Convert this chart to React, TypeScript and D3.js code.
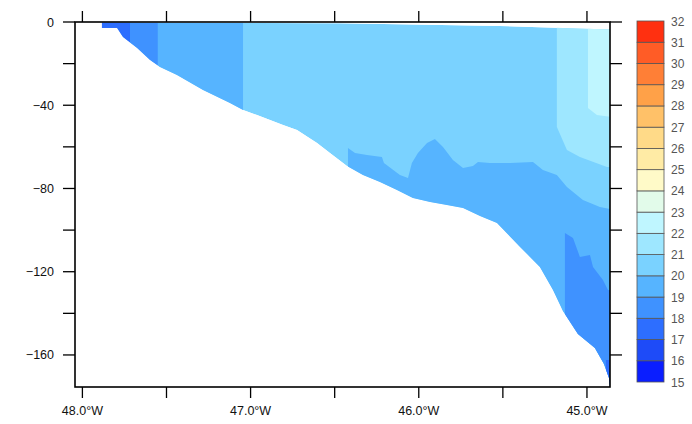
import React from 'react';
import * as d3 from 'd3';

// Colour levels (lower bounds 15..31) and colours of each 1-degree class
const levelBounds = d3.range(15, 33);
const levelColors = [
  '#0A1EFF', '#1E4BF8', '#2D6EFF', '#3F92FF', '#56B4FF', '#7AD2FF', '#9EE7FF', '#BFF6FF',
  '#E2FBEA', '#FFFAC8', '#FFEBA5', '#FFDA88', '#FFC168', '#FFA148', '#FF7F36', '#FF5C26', '#FF3010',
];

// Axis ticks
const xTicks = [-48, -47.5, -47, -46.5, -46, -45.5, -45];
const xLabelTicks = [-48, -47, -46, -45];
const yTicks = [0, -20, -40, -60, -80, -100, -120, -140, -160];
const yLabelTicks = [0, -40, -80, -120, -160];

// Section extents
const lonExtent = [-48.044, -44.863];
const depthExtent = [0, -175.4];

// Sea surface of the section (top of the data)
const surfaceLon = [-47.884, -46.47, -45.52, -44.863];
const surfaceDepth = [-0.2, -0.6, -1.9, -3.6];

// Bathymetry along the section
const bottomLon = [-47.884, -47.794, -47.759, -47.675, -47.598, -47.539, -47.438, -47.283, -47.123, -47.045,
  -46.962, -46.807, -46.724, -46.605, -46.528, -46.427, -46.332, -46.231, -46.13, -46.035, -45.933, -45.833,
  -45.737, -45.636, -45.535, -45.398, -45.28, -45.202, -45.143, -45.054, -44.953, -44.899, -44.869, -44.863];
const bottomDepth = [-2.9, -2.9, -7.2, -12.5, -18.3, -21.6, -25.5, -32.7, -38.9, -42.3, -44.7, -49.5, -51.9,
  -58.1, -62.9, -69.2, -73.5, -76.9, -80.7, -84.6, -86.5, -87.9, -89.4, -93.2, -96.6, -108.1, -117.7, -128.8,
  -138.9, -149.9, -156.6, -164.3, -171.1, -175.4];

// Temperature regions (lon, depth) drawn over the 20-21 °C background
const baseTemp = 20;
const warm21: [number, number][] = [[-45.179, 4], [-44.8, 4], [-44.8, -69.7], [-44.881, -69.7], [-45.042, -64.9], [-45.119, -61.5], [-45.179, -50.5]];
const warm22: [number, number][] = [[-44.994, 4], [-44.8, 4], [-44.8, -46.1], [-44.941, -44.7], [-44.994, -41.3]];
const west17: [number, number][] = [[-48.1, 4], [-47.717, 4], [-47.717, -180], [-48.1, -180]];
const west18: [number, number][] = [[-47.717, 4], [-47.551, 4], [-47.551, -180], [-47.717, -180]];
const west19: [number, number][] = [[-47.551, 4], [-47.045, 4], [-47.045, -180], [-47.551, -180]];
const deep19: [number, number][] = [[-46.421, -60.5], [-46.379, -62.9], [-46.308, -63.9], [-46.219, -64.9], [-46.207, -67.8],
  [-46.112, -73.5], [-46.064, -75.0], [-46.041, -67.8], [-46.005, -62.9], [-45.951, -58.1], [-45.904, -56.2],
  [-45.856, -60.1], [-45.797, -66.3], [-45.737, -70.2], [-45.678, -69.2], [-45.648, -67.3], [-45.577, -67.8],
  [-45.458, -67.8], [-45.321, -67.3], [-45.262, -71.1], [-45.179, -73.5], [-45.119, -79.3], [-45.024, -85.5],
  [-44.923, -88.9], [-44.8, -90.8], [-44.8, -185], [-46.421, -185]];
const deep18: [number, number][] = [[-45.131, -101.4], [-45.083, -103.8], [-45.042, -112.9], [-44.982, -112.0],
  [-44.964, -117.7], [-44.905, -124.0], [-44.875, -128.8], [-44.8, -129.7], [-44.8, -185], [-45.131, -185]];
const deep17: [number, number][] = [[-44.887, -162.4], [-44.8, -162.4], [-44.8, -185], [-44.887, -185]];

const regions = [
  { t: 21, pts: warm21 }, { t: 22, pts: warm22 },
  { t: 17, pts: west17 }, { t: 18, pts: west18 }, { t: 19, pts: west19 },
  { t: 19, pts: deep19 }, { t: 18, pts: deep18 }, { t: 17, pts: deep17 },
];

const W = 692, H = 424;
const L = 75, R = 610, T = 22, B = 387;
const FONT = '"Liberation Sans", Arial, sans-serif';

export default function App() {
  const x = d3.scaleLinear().domain(lonExtent).range([L, R]);
  const y = d3.scaleLinear().domain(depthExtent).range([T, B]);
  const color = d3.scaleThreshold<number, string>().domain(levelBounds.slice(1, -1)).range(levelColors);

  const line = d3.line<[number, number]>().x(d => x(d[0])).y(d => y(d[1]));

  const water: [number, number][] = [
    ...surfaceLon.map((lo, i) => [lo, surfaceDepth[i]] as [number, number]),
    ...bottomLon.map((lo, i) => [lo, bottomDepth[i]] as [number, number]).reverse(),
  ];

  const cbX = 637, cbW = 27, cbTop = 21, cbBot = 382;
  const cb = d3.scaleLinear().domain([15, 32]).range([cbBot, cbTop]);

  const fmtLon = (v: number) => `${Math.abs(v).toFixed(1)}°W`;
  const fmtY = (v: number) => (v < 0 ? `−${Math.abs(v)}` : `${v}`);

  return (
    <svg width={W} height={H} style={{ position: 'absolute', left: 0, top: 0, background: '#fff' }}>
      <defs>
        <clipPath id="waterClip">
          <path d={line(water) + 'Z'} />
        </clipPath>
        <clipPath id="frameClip">
          <rect x={L} y={T} width={R - L} height={B - T} />
        </clipPath>
      </defs>
      <g clipPath="url(#frameClip)">
        <g clipPath="url(#waterClip)">
          <path d={line(water) + 'Z'} fill={color(baseTemp)} />
          {regions.map((r, i) => (
            <path key={i} d={line(r.pts) + 'Z'} fill={color(r.t)} />
          ))}
        </g>
      </g>
      {/* frame */}
      <rect x={L} y={T} width={R - L} height={B - T} fill="none" stroke="#000" strokeWidth={1.6} />
      {/* x ticks */}
      {xTicks.map(v => (
        <g key={v}>
          <line x1={x(v)} x2={x(v)} y1={B} y2={B + 11} stroke="#000" strokeWidth={1.3} />
          <line x1={x(v)} x2={x(v)} y1={T} y2={T - 11} stroke="#000" strokeWidth={1.3} />
        </g>
      ))}
      {xLabelTicks.map(v => (
        <text key={v} x={x(v)} y={415} textAnchor="middle" fontFamily={FONT} fontSize={12.5} fill="#111">{fmtLon(v)}</text>
      ))}
      {/* y ticks */}
      {yTicks.map(v => (
        <g key={v}>
          <line x1={L - 12} x2={L} y1={y(v)} y2={y(v)} stroke="#000" strokeWidth={1.3} />
          <line x1={R} x2={R + 12} y1={y(v)} y2={y(v)} stroke="#000" strokeWidth={1.3} />
        </g>
      ))}
      {yLabelTicks.map(v => (
        <text key={v} x={54} y={y(v) + 4.5} textAnchor="end" fontFamily={FONT} fontSize={12.5} fill="#111">{fmtY(v)}</text>
      ))}
      {/* colour bar */}
      {levelColors.map((c, i) => (
        <rect key={i} x={cbX} y={cb(levelBounds[i + 1])} width={cbW} height={cb(levelBounds[i]) - cb(levelBounds[i + 1])}
          fill={c} stroke="#555" strokeWidth={0.8} />
      ))}
      {levelBounds.map(v => (
        <text key={v} x={671} y={cb(v) + 4.5} fontFamily={FONT} fontSize={12} fill="#555">{v}</text>
      ))}
    </svg>
  );
}
